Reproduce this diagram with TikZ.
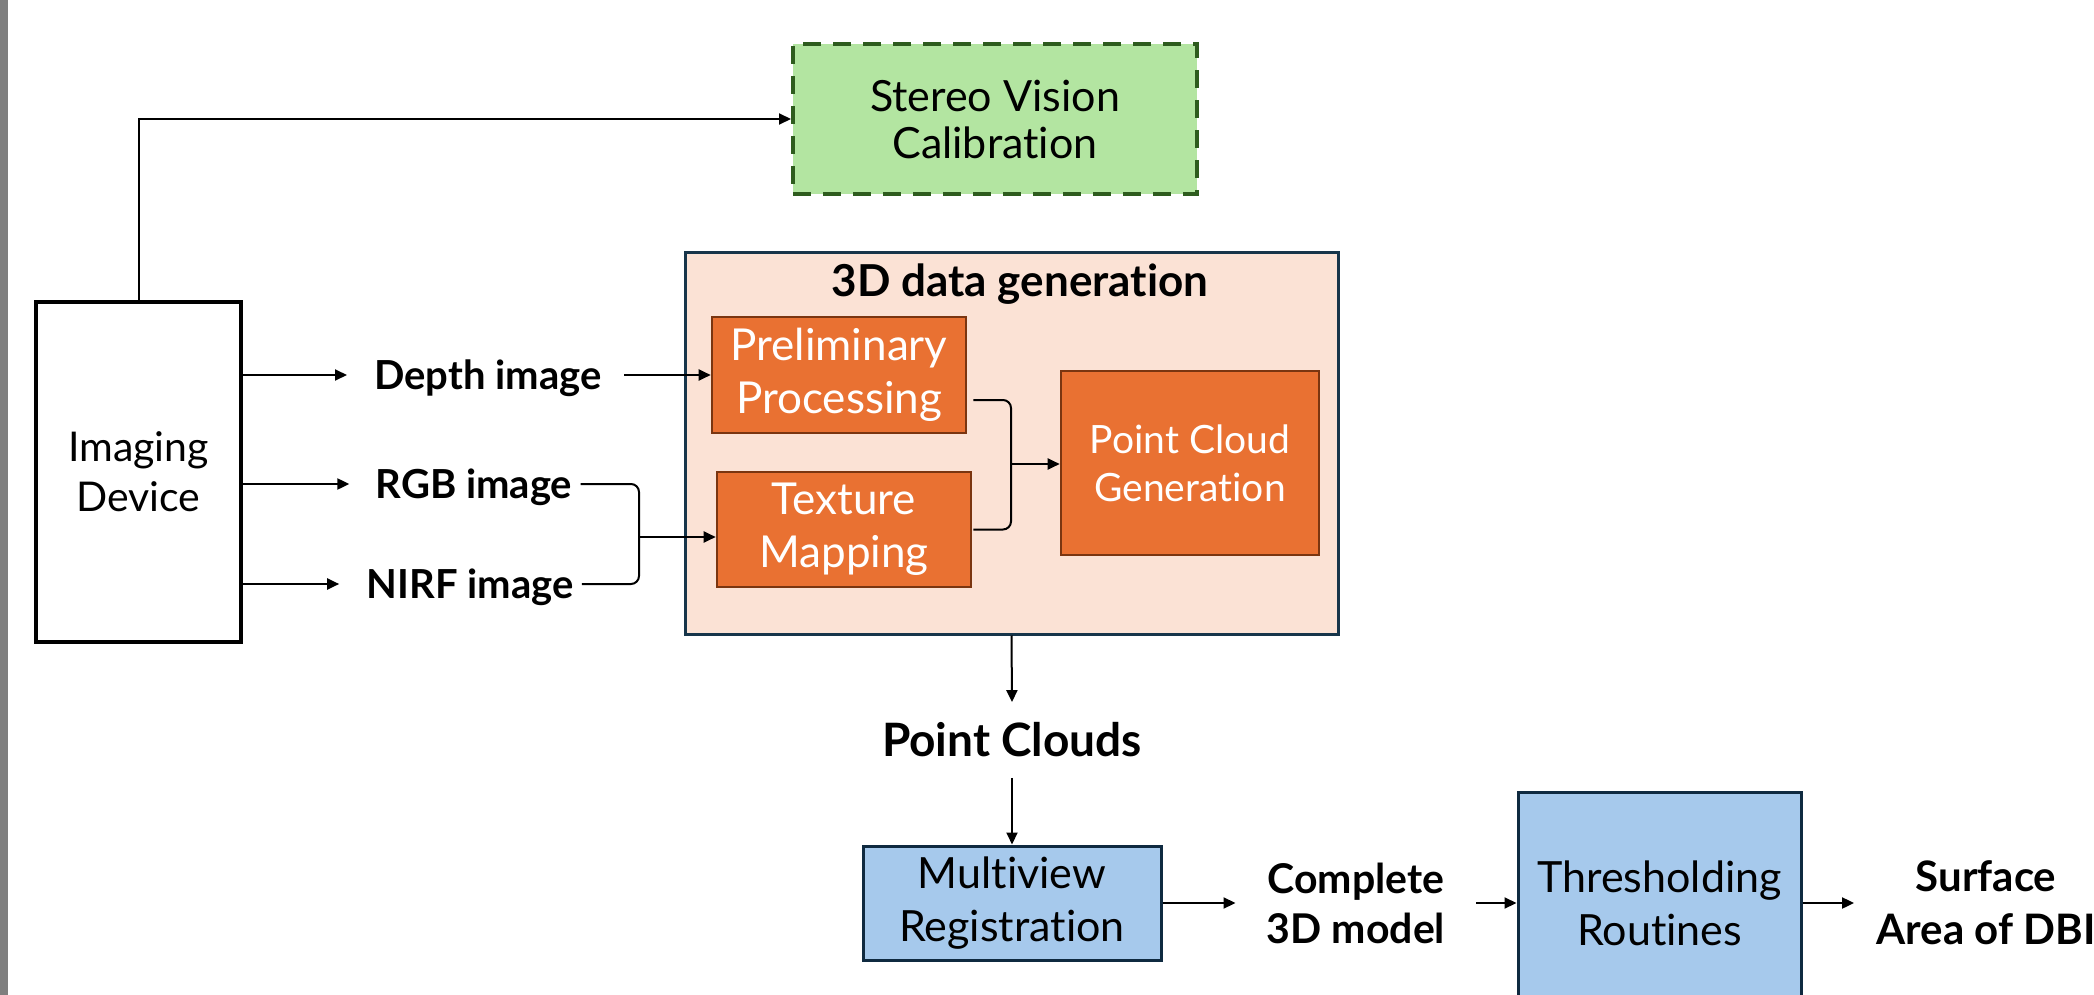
\documentclass[tikz,border=0pt]{standalone}
\usepackage{fontspec}
\setmainfont{Lato}[Ligatures=NoCommon]
\usetikzlibrary{arrows.meta}

\definecolor{edgegray}{HTML}{7F7F7F}
\definecolor{calibfill}{HTML}{B3E5A1}
\definecolor{calibline}{HTML}{2E5C1E}
\definecolor{genfill}{HTML}{FBE2D5}
\definecolor{genline}{HTML}{17354A}
\definecolor{procfill}{HTML}{E97132}
\definecolor{procline}{HTML}{7A3510}
\definecolor{regfill}{HTML}{A6C9EC}
\definecolor{regline}{HTML}{0F2A40}

\tikzset{
  conn/.style={line width=1pt, draw=black},
  arr/.style={conn, -{Triangle[length=6pt,width=5.5pt]}},
  boxbase/.style={rectangle, align=center, inner sep=0pt},
  devicebox/.style={boxbase, draw=black, line width=1.6pt, fill=white,
    font=\fontsize{20.5}{25}\selectfont},
  calibbox/.style={boxbase, draw=calibline, fill=calibfill, line width=2pt,
    dash pattern=on 9pt off 6pt, font=\fontsize{21.5}{23.5}\selectfont},
  groupbox/.style={boxbase, draw=genline, fill=genfill, line width=1.5pt},
  procbox/.style={boxbase, draw=procline, fill=procfill, line width=1.3pt,
    text=white, font=\fontsize{22}{26.5}\selectfont},
  regbox/.style={boxbase, draw=regline, fill=regfill, line width=1.5pt,
    font=\fontsize{21.5}{26.5}\selectfont},
  tag/.style={inner sep=0pt, text height=14pt, text depth=0pt,
    font=\bfseries\fontsize{20}{24}\selectfont},
  bigtag/.style={inner sep=0pt, text height=16pt, text depth=0pt,
    font=\bfseries\fontsize{22}{26}\selectfont},
  outtag/.style={inner sep=0pt, align=center,
    font=\bfseries\fontsize{20.5}{25}\selectfont},
}

\begin{document}
\begin{tikzpicture}[x=0.5pt, y=-0.5pt]
\useasboundingbox (0,0) rectangle (2094,995);
\fill[white] (0,0) rectangle (2094,995);
\fill[edgegray] (0,0) rectangle (8,995);

% acquisition and calibration
\node[devicebox, minimum width=102.5pt, minimum height=170pt] (imaging) at (138.5,472) {Imaging\\Device};
\node[calibbox, minimum width=202pt, minimum height=75pt] (calib) at (995,119) {Stereo Vision\\Calibration};

% raw image outputs
\node[tag] (depth) at (488,375) {Depth image};
\node[tag] (rgb) at (474,484) {RGB image};
\node[tag] (nirf) at (470,584) {NIRF image};

% 3D data generation group
\node[groupbox, minimum width=326.5pt, minimum height=191pt] (gen) at (1011.5,443) {};
\node[bigtag] (gentitle) at (1020,280) {3D data generation};
\node[procbox, minimum width=127pt, minimum height=58pt] (prelim) at (839,375) {Preliminary\\Processing};
\node[procbox, minimum width=127pt, minimum height=57.5pt] (texture) at (844,529.5) {Texture\\Mapping};
\node[procbox, minimum width=129pt, minimum height=92pt,
  font=\fontsize{19.5}{24}\selectfont] (pcg) at (1190,463) {Point Cloud\\Generation};

% registration and measurement
\node[bigtag, font=\bfseries\fontsize{23}{26}\selectfont, text height=16.5pt] (clouds) at (1012,740) {Point Clouds};
\node[regbox, minimum width=149pt, minimum height=57pt] (multi) at (1012,903) {Multiview\\Registration};
\node[outtag] (model) at (1356,903) {Complete\\3D model};
\node[regbox, minimum width=141.5pt, minimum height=111pt] (thresh) at (1659.5,903) {Thresholding\\Routines};
\node[outtag, font=\bfseries\fontsize{21}{26.5}\selectfont] (area) at (1986,903) {Surface\\Area of DBI};

% junction points of the merging connectors
\coordinate (imgJ) at (639,537);
\coordinate (genJ) at (1011,464);

% connectors
\draw[arr] (imaging.north) |- (calib.west);
\draw[arr] (imaging.east |- depth) -- ([xshift=-13.5pt]depth.west);
\draw[arr] (imaging.east |- rgb) -- ([xshift=-13pt]rgb.west);
\draw[arr] (imaging.east |- nirf) -- ([xshift=-13.5pt]nirf.west);
\draw[arr] ([xshift=11pt]depth.east) -- (prelim.west |- depth);
\draw[conn, rounded corners=4pt] ([xshift=4pt]rgb.east) -| (imgJ |- nirf) -- ([xshift=4pt]nirf.east);
\draw[arr] (imgJ) -- (texture.west |- imgJ);
\draw[conn, rounded corners=4pt] ([xshift=3pt,yshift=-12.5pt]prelim.east) -| (genJ |- texture.east) -- ([xshift=0.5pt]texture.east);
\draw[arr] (genJ) -- (pcg.west |- genJ);
\draw[arr] (gen.south) -- ([yshift=10.5pt]clouds.north);
\draw[arr] ([yshift=-10.5pt]clouds.south) -- (multi.north);
\draw[arr] (multi.east) -- ([xshift=-15.5pt]model.west);
\draw[arr] ([xshift=15.5pt]model.east) -- (thresh.west);
\draw[arr] (thresh.east) -- ([xshift=-11pt]area.west);
\end{tikzpicture}
\end{document}
